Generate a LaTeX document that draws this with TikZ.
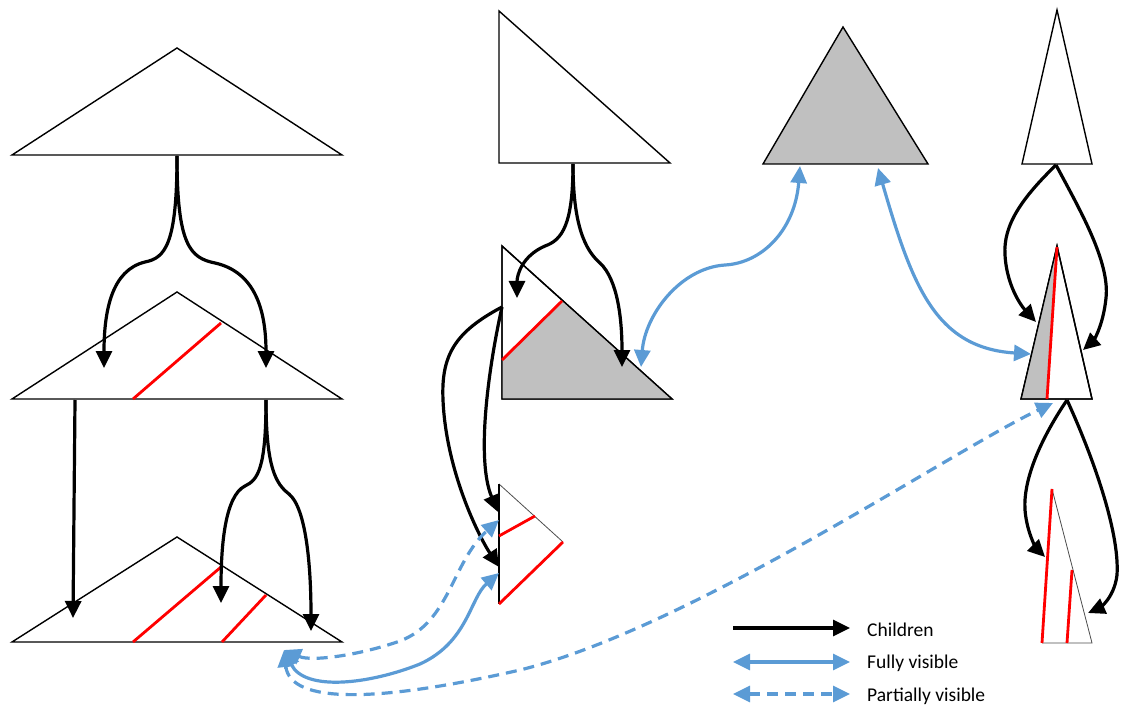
\documentclass[tikz,border=0pt]{standalone}
\usepackage{fontspec}
\setmainfont{Carlito}
\usetikzlibrary{arrows.meta}
\definecolor{vblue}{RGB}{91,155,213}
\definecolor{vred}{RGB}{255,0,0}
\definecolor{vgray}{RGB}{192,192,192}
\tikzset{
  tri/.style={draw=black,line width=1.4pt,fill=white,line join=miter},
  grayfill/.style={fill=vgray,draw=none},
  thinedge/.style={draw=black!70,line width=0.8pt},
  cut/.style={draw=vred,line width=2.8pt},
  child/.style={draw=black,line width=3.2pt,-{Triangle[length=17pt,width=16pt]}},
  full/.style={draw=vblue,line width=3.2pt,{Triangle[length=17pt,width=16pt]}-{Triangle[length=17pt,width=16pt]}},
  part/.style={full,dash pattern=on 11pt off 7pt},
  legtext/.style={anchor=west,font=\fontsize{19.5}{23}\selectfont,inner sep=0pt}
}
\begin{document}
\begin{tikzpicture}[x=1pt,y=-1pt]
\useasboundingbox (0,0) rectangle (1121,708);

% ---------------- left column ----------------
\draw[tri] (177,48) -- (12,155) -- (342,155) -- cycle;
\draw[tri] (177,292) -- (12,399) -- (342,399) -- cycle;
\draw[cut] (133,399) -- (221,323);
\draw[tri] (177,537) -- (12,642) -- (342,642) -- cycle;
\draw[cut] (133,642) -- (221,567);
\draw[cut] (222,642) -- (266,595);

\coordinate (Abase) at (177,156);
\coordinate (Bl) at (104,368);
\coordinate (Br) at (266,368);
\coordinate (Bout1) at (75,400);
\coordinate (Bout2) at (266,400);
\coordinate (Cl) at (73,618);
\coordinate (Cm) at (221,603);
\coordinate (Cr) at (311,631);
\coordinate (Cvis) at (284,650);

\draw[child] (Abase) .. controls (177,245) and (165,258) .. (145,262)
  .. controls (112,270) and (104,310) .. (Bl);
\draw[child] (Abase) .. controls (177,245) and (190,258) .. (215,263)
  .. controls (255,272) and (266,310) .. (Br);
\draw[child] (Bout1) -- (Cl);
\draw[child] (Bout2) .. controls (266,468) and (258,480) .. (245,486)
  .. controls (225,496) and (221,545) .. (Cm);
\draw[child] (Bout2) .. controls (266,468) and (276,484) .. (289,494)
  .. controls (306,508) and (311,565) .. (Cr);

% ---------------- middle column ----------------
\draw[tri] (499,11) -- (499,163) -- (670,163) -- cycle;
\draw[tri] (502,246) -- (502,399) -- (672,399) -- cycle;
\fill[grayfill] (502,360) -- (562,301) -- (672,399) -- (502,399) -- cycle;
\draw[tri,fill=none] (502,246) -- (502,399) -- (672,399) -- cycle;
\draw[cut] (502,360) -- (562,301);

% small triangle F
\draw[thinedge] (499,484) -- (563,542);
\draw[line width=1.4pt] (499,484) -- (499,604);
\draw[cut] (499,536) -- (535,516);
\draw[cut] (499,604) -- (563,542);

\coordinate (Dbase) at (573,164);
\coordinate (El) at (517,298);
\coordinate (Er) at (622,367);
\coordinate (Eout) at (502,307);
\coordinate (Fa) at (498,512);
\coordinate (Fb) at (499,567);
\coordinate (Fva) at (499,520);
\coordinate (Fvb) at (499,573);
\coordinate (Evis) at (641,367);

\draw[child] (Dbase) .. controls (573,225) and (562,240) .. (545,246)
  .. controls (522,256) and (517,275) .. (El);
\draw[child] (Dbase) .. controls (573,225) and (585,250) .. (600,263)
  .. controls (618,280) and (622,320) .. (Er);
\draw[child] (Eout) .. controls (488,370) and (476,460) .. (Fa);
\draw[child] (Eout) .. controls (455,332) and (441,355) .. (443,400)
  .. controls (446,470) and (478,535) .. (Fb);

% ---------------- right side ----------------
\draw[tri,fill=vgray] (843,27) -- (763,164) -- (928,164) -- cycle;
\draw[tri] (1057,10) -- (1022,164) -- (1092,164) -- cycle;
\draw[tri] (1057,246) -- (1021,399) -- (1092,399) -- cycle;
\fill[grayfill] (1057,247) -- (1022,398) -- (1047,398) -- cycle;
\draw[tri,fill=none] (1057,246) -- (1021,399) -- (1092,399) -- cycle;
\draw[cut] (1057,247) -- (1047,399);

% triangle J
\draw[thinedge] (1052,489) -- (1092,643) -- (1042,643);
\draw[cut] (1052,489) -- (1042,643);
\draw[cut] (1067,643) -- (1072,570);

\coordinate (Gl) at (800,166);
\coordinate (Gr) at (878,168);
\coordinate (Hbase) at (1056,165);
\coordinate (Il) at (1036,322);
\coordinate (Ir) at (1083,350);
\coordinate (Ivis) at (1031,354);
\coordinate (Iout) at (1067,400);
\coordinate (Ivis2) at (1053,403);
\coordinate (Jl) at (1045,557);
\coordinate (Jr) at (1088,613);

\draw[child] (Hbase) .. controls (1022,198) and (1003,225) .. (1005,255)
  .. controls (1007,290) and (1025,310) .. (Il);
\draw[child] (Hbase) .. controls (1080,210) and (1110,262) .. (1106,298)
  .. controls (1103,328) and (1092,342) .. (Ir);
\draw[child] (Iout) .. controls (1040,440) and (1023,480) .. (1025,510)
  .. controls (1027,535) and (1038,550) .. (Jl);
\draw[child] (Iout) .. controls (1090,450) and (1120,530) .. (1117,575)
  .. controls (1114,600) and (1097,609) .. (Jr);

% ---------------- visibility links ----------------
\draw[full] (Gl) .. controls (795,230) and (762,263) .. (725,265)
  .. controls (680,268) and (645,315) .. (Evis);
\draw[full] (Gr) .. controls (912,285) and (935,348) .. (Ivis);
\draw[part] (Cvis) .. controls (290,705) and (380,702) .. (520,670)
  .. controls (690,628) and (950,452) .. (Ivis2);
\draw[full] (Cvis) .. controls (305,692) and (370,684) .. (420,664)
  .. controls (468,642) and (470,598) .. (Fvb);
\draw[part] (Cvis) .. controls (312,662) and (360,655) .. (400,641)
  .. controls (450,622) and (452,562) .. (Fva);

% ---------------- legend ----------------
\coordinate (L1a) at (733,628);
\coordinate (L1b) at (850,628);
\coordinate (L2a) at (733,662);
\coordinate (L2b) at (850,662);
\coordinate (L3a) at (733,694);
\coordinate (L3b) at (850,694);
\draw[child] (L1a) -- (L1b);
\draw[full] (L2a) -- (L2b);
\draw[part] (L3a) -- (L3b);
\node[legtext] (t1) at (867,630) {Children};
\node[legtext] (t2) at (867,663) {Fully visible};
\node[legtext] (t3) at (867,696) {Partially visible};
\end{tikzpicture}
\end{document}
